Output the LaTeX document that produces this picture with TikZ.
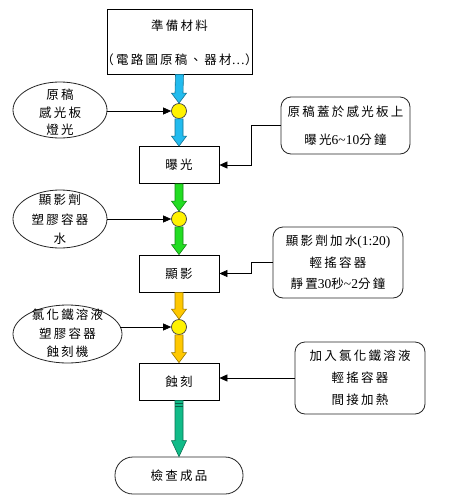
\documentclass[tikz,border=0pt]{standalone}
\usepackage{fontspec}
\setmainfont[LetterSpace=18]{Noto Sans CJK TC}
\newfontfamily\lat[Scale=1.08]{Liberation Serif}
\usetikzlibrary{arrows.meta,calc,shapes.geometric}
\definecolor{fblue}{HTML}{22BBEE}
\definecolor{fgreen}{HTML}{22DD22}
\definecolor{forange}{HTML}{FFC800}
\definecolor{fteal}{HTML}{11BB88}
\definecolor{jyellow}{HTML}{FFF200}
\tikzset{
 procbox/.style={draw=black, line width=0.8pt, fill=white, minimum width=80pt, minimum height=37pt, inner sep=0pt, font=\fontsize{12.5}{14}\selectfont},
 notebox/.style={draw=black!85, line width=0.8pt, rounded corners=10pt, inner sep=0pt, align=center},
 ellnode/.style={ellipse, draw=black!85, line width=0.8pt, inner sep=0pt},
 joint/.style={circle, draw=black!75, fill=jyellow, line width=0.7pt, minimum size=15pt, inner sep=0pt},
 link/.style={draw=black, line width=0.7pt, -{Triangle[length=8pt,width=7pt]}},
 txt/.style={align=center, inner sep=0pt}
}
\newcommand{\fatarrow}[4]{%
 \draw[draw=#3!60!black, fill=#3, line width=0.6pt, line join=miter]
 ($(#1.south)+(-4,0)$) -- ($(#2.north)+(-4,-#4)$) -- ($(#2.north)+(-7.5,-#4)$)
 -- (#2.north) -- ($(#2.north)+(7.5,-#4)$) -- ($(#2.north)+(4,-#4)$)
 -- ($(#1.south)+(4,0)$) -- cycle;}
\begin{document}
\begin{tikzpicture}[x=1pt,y=-1pt]
\useasboundingbox (0,0) rectangle (450,499);
\fill[white] (0,0) rectangle (450,499);

% main column
\node[procbox, minimum width=145pt, minimum height=65pt] (top) at (179.5,41.5) {};
\node[txt, font=\fontsize{12.5}{34}\selectfont] (topt) at (179.5,43) {準備材料\\（電路圖原稿、器材{\lat …}）};
\node[joint] (c1) at (179,111) {};
\node[procbox] (b2) at (179,165) {曝光};
\node[joint] (c2) at (179,219) {};
\node[procbox] (b3) at (179,273.5) {顯影};
\node[joint] (c3) at (179,327) {};
\node[procbox] (b4) at (179,381.5) {蝕刻};
\node[draw=black!85, line width=0.8pt, rounded corners=18pt, minimum width=128pt, minimum height=37pt, inner sep=0pt, font=\fontsize{12.5}{14}\selectfont] (fin) at (179,475.5) {檢查成品};

% fat arrows
\fatarrow{top}{c1}{fblue}{10}
\fatarrow{c1}{b2}{fblue}{10}
\fatarrow{b2}{c2}{fgreen}{10}
\fatarrow{c2}{b3}{fgreen}{10}
\fatarrow{b3}{c3}{forange}{10}
\fatarrow{c3}{b4}{forange}{10}
\fatarrow{b4}{fin}{fteal}{16}
\draw[fteal!50!black, line width=0.6pt] ($(b4.south)+(-4,3)$) -- ($(b4.south)+(4,3)$);
\draw[fteal!50!black, line width=0.6pt] ($(b4.south)+(-4,6)$) -- ($(b4.south)+(4,6)$);

% left ellipses
\node[ellnode, minimum width=94pt, minimum height=56pt] (e1) at (60,110) {};
\node[txt, font=\fontsize{12.5}{17.5}\selectfont] (e1t) at (60,112.5) {原稿\\感光板\\燈光};
\node[ellnode, minimum width=94pt, minimum height=58pt] (e2) at (60,219) {};
\node[txt, font=\fontsize{12.5}{19.5}\selectfont] (e2t) at (60,219.5) {顯影劑\\塑膠容器\\水};
\node[ellnode, minimum width=109pt, minimum height=58pt] (e3) at (67.5,334) {};
\node[txt, font=\fontsize{12.5}{18.5}\selectfont] (e3t) at (67.5,333.5) {氯化鐵溶液\\塑膠容器\\蝕刻機};

\draw[link] (e1.east |- c1) -- (c1.west);
\draw[link] (e2.east |- c2) -- (c2.west);
\draw[link] ($(c3.west)+(-51,0)$) -- (c3.west);

% right notes
\node[notebox, minimum width=129pt, minimum height=57pt, font=\fontsize{12.5}{28}\selectfont] (rb1) at (345.5,125.5) {原稿蓋於感光板上\\曝光{\lat 6\char"7E 10}分鐘};
\node[notebox, minimum width=130pt, minimum height=71pt, font=\fontsize{12.5}{21.5}\selectfont] (rb2) at (338,262.5) {顯影劑加水{\lat (1:20)}\\輕搖容器\\靜置{\lat 30}秒{\lat \char"7E 2}分鐘};
\node[notebox, minimum width=130pt, minimum height=72pt, font=\fontsize{12.5}{22}\selectfont] (rb3) at (360,378) {加入氯化鐵溶液\\輕搖容器\\間接加熱};

\draw[link] (rb1.west) -- ++(-29,0) |- (b2.east);
\draw[link] (rb2.west) -- ++(-21,0) |- (b3.east);
\draw[link] (rb3.west) -- (rb3.west -| b4.east);
\end{tikzpicture}
\end{document}
